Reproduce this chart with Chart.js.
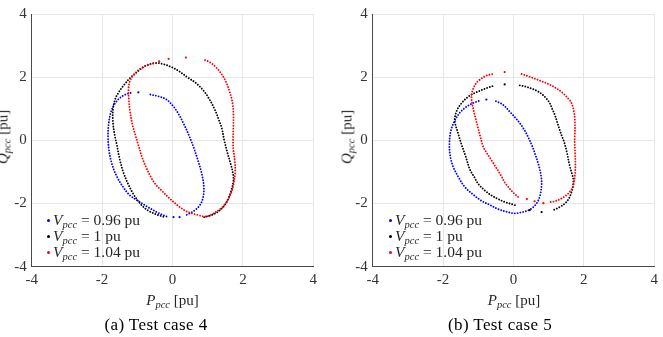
<!DOCTYPE html>
<html>
<head>
<meta charset="utf-8">
<script src="https://cdn.jsdelivr.net/npm/chart.js@4.4.1/dist/chart.umd.min.js"></script>
<style>
  body { margin: 0; width: 663px; height: 337px; background: #fff; position: relative; overflow: hidden;
         font-family: "Liberation Serif", serif; color: #262626; }
  canvas { position: absolute; top: 0; }
  .lbl { position: absolute; white-space: nowrap; font-size: 15px; transform: translate(-50%, -50%); }
  .rot { transform: translate(-50%, -50%) rotate(-90deg); }
  sub { font-size: 10.5px; font-style: italic; vertical-align: -3px; line-height: 0; }
  .leg { position: absolute; font-size: 15.5px; white-space: nowrap; }
  .leg div { position: relative; padding-left: 5px; height: 16px; line-height: 16px; }
  .leg .dot { position: absolute; left: -1.5px; top: 6.5px; width: 3px; height: 3px; border-radius: 50%; }
  .cap { position: absolute; font-size: 17px; letter-spacing: 0.4px; color: #000; transform: translate(-50%, -50%); white-space: nowrap; }
</style>
</head>
<body>
<canvas id="case4" width="330" height="292" style="left:0"></canvas>
<canvas id="case5" width="321" height="292" style="left:341.3px"></canvas>

<div class="lbl rot" style="left:3px;top:137px"><i>Q</i><sub>pcc</sub> [pu]</div>
<div class="lbl" style="left:172.5px;top:300px"><i>P</i><sub>pcc</sub> [pu]</div>
<div class="lbl rot" style="left:347px;top:137px"><i>Q</i><sub>pcc</sub> [pu]</div>
<div class="lbl" style="left:514px;top:300px"><i>P</i><sub>pcc</sub> [pu]</div>

<div class="leg" id="leg4" style="left:48px;top:212px"></div>
<div class="leg" id="leg5" style="left:390px;top:212px"></div>

<div class="cap" id="cap4" style="left:156px;top:325px"></div>
<div class="cap" id="cap5" style="left:500px;top:325px"></div>

<script>
// tick values on both axes
const axisTicks = [-4, -2, 0, 2, 4];

const vLabels = ["0.96", "1", "1.04"];
const colors = ["#0000ff", "#000000", "#ff0000"];
const captions = ["(a) Test case 4", "(b) Test case 5"];

// ===== test case 4 : dense arcs [P, Q] + isolated dots =====
const case4Blue = [
  [[-0.63,1.45],[-0.42,1.40],[-0.18,1.30],[0.02,1.08],[0.18,0.82],[0.32,0.52],[0.47,0.15],[0.60,-0.22],
   [0.72,-0.62],[0.83,-1.05],[0.89,-1.45],[0.87,-1.80],[0.78,-2.05],[0.60,-2.24],[0.38,-2.37]],
  [[-0.17,-2.41],[-0.40,-2.30],[-0.64,-2.15],[-0.90,-1.97],[-1.21,-1.74],[-1.42,-1.45],[-1.60,-1.10],
   [-1.72,-0.75],[-1.80,-0.35],[-1.83,0.05],[-1.82,0.45],[-1.76,0.85],[-1.66,1.12],[-1.52,1.32],
   [-1.34,1.45],[-1.15,1.51]]
];
const case4BlueDots = [[-0.97,1.52],[0.03,-2.43],[0.20,-2.43]];

const case4Black = [
  [[0.90,-2.43],[1.10,-2.37],[1.28,-2.27],[1.43,-2.12],[1.55,-1.93],[1.66,-1.62],[1.73,-1.28],[1.71,-1.00],
   [1.64,-0.70],[1.55,-0.35],[1.47,0.00],[1.40,0.38],[1.30,0.70],[1.20,0.98],[1.05,1.30],[0.90,1.55],
   [0.66,1.82],[0.42,2.00],[0.17,2.20],[-0.05,2.33],[-0.25,2.41],[-0.45,2.45],[-0.62,2.42],[-0.80,2.34],
   [-1.00,2.17],[-1.20,1.98],[-1.38,1.75],[-1.53,1.52],[-1.63,1.30],[-1.69,1.00],[-1.69,0.55],[-1.64,0.15],
   [-1.58,-0.15],[-1.50,-0.60],[-1.40,-1.00],[-1.26,-1.38],[-1.10,-1.72],[-0.88,-2.05],[-0.65,-2.25],
   [-0.42,-2.36],[-0.25,-2.42]]
];
const case4BlackDots = [];

const case4Red = [
  [[-0.55,2.43],[-0.75,2.36],[-0.95,2.24],[-1.10,2.08],[-1.20,1.90],[-1.25,1.65],[-1.24,1.30],[-1.21,0.95],
   [-1.14,0.50],[-1.05,0.15],[-0.97,-0.15],[-0.86,-0.55],[-0.75,-0.85],[-0.62,-1.15],[-0.49,-1.38],
   [-0.30,-1.60],[-0.10,-1.82],[0.17,-2.08],[0.38,-2.24],[0.55,-2.31],[0.74,-2.37],[0.90,-2.41],
   [1.05,-2.38],[1.31,-2.21],[1.45,-2.08],[1.56,-1.90],[1.68,-1.62],[1.74,-1.35],[1.78,-1.00],
   [1.77,-0.65],[1.73,-0.30],[1.72,0.05],[1.73,0.45],[1.73,0.85],[1.71,1.15],[1.63,1.52],[1.52,1.85],
   [1.38,2.12],[1.22,2.33],[1.05,2.48],[0.85,2.57]]
];
const case4RedDots = [[-0.38,2.50],[-0.11,2.58],[0.38,2.62]];

// ===== test case 5 =====
const case5Blue = [
  [[-0.50,1.24],[-0.30,1.13],[-0.10,0.90],[0.05,0.72],[0.17,0.56],[0.30,0.35],[0.41,0.12],[0.52,-0.15],
   [0.62,-0.45],[0.72,-0.80],[0.78,-1.10],[0.80,-1.40],[0.74,-1.80],[0.62,-2.05],[0.45,-2.20],[0.22,-2.28],
   [0.01,-2.31],[-0.23,-2.25],[-0.45,-2.17],[-0.66,-2.05],[-0.90,-1.92],[-1.13,-1.73],[-1.38,-1.48],
   [-1.57,-1.15],[-1.72,-0.82],[-1.80,-0.48],[-1.82,-0.10],[-1.78,0.30],[-1.67,0.62],[-1.52,0.88],
   [-1.35,1.05],[-1.15,1.18],[-0.95,1.26]]
];
const case5BlueDots = [[-0.77,1.29]];

const case5Black = [
  [[0.18,1.74],[0.35,1.70],[0.51,1.64],[0.66,1.57],[0.80,1.47],[0.93,1.33],[1.03,1.18],[1.10,1.00],
   [1.17,0.82],[1.25,0.55],[1.32,0.31],[1.38,0.12],[1.44,-0.05],[1.52,-0.40],[1.60,-0.82],[1.66,-1.05],
   [1.70,-1.23],[1.69,-1.45],[1.65,-1.64],[1.57,-1.85],[1.46,-2.00],[1.30,-2.12],[1.13,-2.21]],
  [[0.04,-2.05],[-0.25,-1.95],[-0.45,-1.85],[-0.63,-1.74],[-0.82,-1.58],[-1.00,-1.38],[-1.12,-1.15],
   [-1.24,-0.92],[-1.36,-0.50],[-1.48,-0.12],[-1.57,0.21],[-1.65,0.50],[-1.67,0.67],[-1.63,0.88],
   [-1.57,1.03],[-1.45,1.21],[-1.29,1.38],[-1.10,1.50],[-0.91,1.59],[-0.75,1.66],[-0.58,1.72]]
];
const case5BlackDots = [[-0.25,1.77],[0.46,-2.21],[0.80,-2.27]];

const case5Red = [
  [[0.23,2.10],[0.42,2.03],[0.61,1.95],[0.80,1.87],[0.98,1.79],[1.20,1.66],[1.41,1.49],[1.55,1.33],
   [1.65,1.18],[1.71,0.95],[1.74,0.72],[1.75,0.40],[1.74,0.10],[1.74,-0.10],[1.75,-0.40],[1.76,-0.72],
   [1.75,-1.05],[1.70,-1.44],[1.62,-1.60],[1.50,-1.74],[1.33,-1.86],[1.17,-1.93],[1.02,-1.96]],
  [[0.13,-1.79],[0.00,-1.66],[-0.13,-1.50],[-0.25,-1.33],[-0.36,-1.10],[-0.50,-0.85],[-0.63,-0.62],
   [-0.76,-0.40],[-0.86,-0.20],[-0.95,0.15],[-1.02,0.45],[-1.10,0.80],[-1.15,1.03],[-1.19,1.30],
   [-1.18,1.50],[-1.12,1.70],[-1.03,1.85],[-0.88,1.98],[-0.77,2.05],[-0.62,2.09],[-0.53,2.10]]
];
const case5RedDots = [[-0.25,2.16],[0.38,-1.86],[0.60,-1.93],[0.85,-1.99]];

const gridColor = "#e6e6e6";
const axisColor = "#4a4a4a";
const tickFont = { family: "'Liberation Serif', serif", size: 15 };

const toXY = (arr) => arr.map((p) => ({ x: p[0], y: p[1] }));

// mỗi chuỗi: các cung dày (vẽ bằng đường chấm) + vài điểm lẻ
function buildDatasets(groups) {
  const out = [];
  groups.forEach((g, i) => {
    g.arcs.forEach((arc) => {
      out.push({
        data: toXY(arc),
        showLine: true,
        borderColor: colors[i],
        borderWidth: 1.9,
        borderDash: [0.01, 2.8],
        borderCapStyle: "round",
        tension: 0.35,
        pointRadius: 0,
        order: 2 - i,
      });
    });
    out.push({
      data: toXY(g.dots),
      showLine: false,
      pointRadius: 1.1,
      pointBorderWidth: 0,
      backgroundColor: colors[i],
      order: 2 - i,
    });
  });
  return out;
}

function makeChart(id, groups, rightPad) {
  const ctx = document.getElementById(id).getContext("2d");
  return new Chart(ctx, {
    type: "scatter",
    data: { datasets: buildDatasets(groups) },
    options: {
      responsive: false,
      animation: false,
      layout: { padding: { top: 6.7, right: rightPad, left: 0, bottom: 0 } },
      plugins: { legend: { display: false }, tooltip: { enabled: false } },
      scales: {
        x: {
          type: "linear",
          min: axisTicks[0],
          max: axisTicks[axisTicks.length - 1],
          ticks: { stepSize: axisTicks[1] - axisTicks[0], color: "#333", font: tickFont, padding: 4 },
          grid: { color: gridColor, drawTicks: false },
          border: { color: axisColor, width: 1 },
          afterFit(s) { s.height = 25.3; },
        },
        y: {
          type: "linear",
          min: axisTicks[0],
          max: axisTicks[axisTicks.length - 1],
          ticks: { stepSize: axisTicks[1] - axisTicks[0], color: "#333", font: tickFont, padding: 5 },
          grid: { color: gridColor, drawTicks: false },
          border: { color: axisColor, width: 1 },
          afterFit(s) { s.width = 31.7; },
        },
      },
    },
  });
}

makeChart("case4", [
  { arcs: case4Blue, dots: case4BlueDots },
  { arcs: case4Black, dots: case4BlackDots },
  { arcs: case4Red, dots: case4RedDots },
], 16.7);

makeChart("case5", [
  { arcs: case5Blue, dots: case5BlueDots },
  { arcs: case5Black, dots: case5BlackDots },
  { arcs: case5Red, dots: case5RedDots },
], 7.7);

// chú thích html (có chỉ số dưới)
["leg4", "leg5"].forEach((id) => {
  document.getElementById(id).innerHTML = vLabels
    .map((v, i) => `<div><span class="dot" style="background:${colors[i]}"></span><i>V</i><sub>pcc</sub> = ${v} pu</div>`)
    .join("");
});
document.getElementById("cap4").textContent = captions[0];
document.getElementById("cap5").textContent = captions[1];
</script>
</body>
</html>
